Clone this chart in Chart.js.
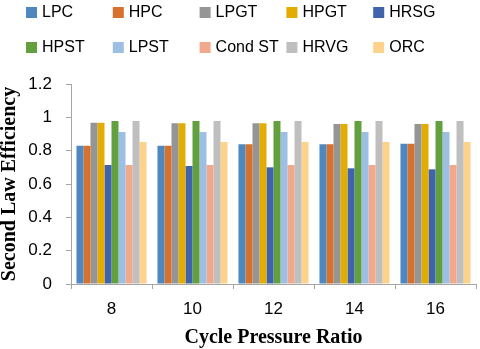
<!DOCTYPE html>
<html>
<head>
<meta charset="utf-8">
<script src="https://cdn.jsdelivr.net/npm/chart.js@4"></script>
<style>
  body { margin: 0; background: #fff; }
  #wrap { width: 480px; height: 349px; }
</style>
</head>
<body>
<div id="wrap"><canvas id="effChart" width="480" height="349"></canvas></div>
<script>
// data
const ratios = ["8", "10", "12", "14", "16"];
const seriesNames = ["LPC", "HPC", "LPGT", "HPGT", "HRSG", "HPST", "LPST", "Cond ST", "HRVG", "ORC"];
const lpc = [0.830, 0.830, 0.838, 0.838, 0.842];
const hpc = [0.830, 0.830, 0.838, 0.838, 0.842];
const lpgt = [0.968, 0.964, 0.964, 0.960, 0.960];
const hpgt = [0.968, 0.964, 0.964, 0.960, 0.960];
const hrsg = [0.714, 0.708, 0.700, 0.694, 0.688];
const hpst = [0.978, 0.978, 0.978, 0.978, 0.978];
const lpst = [0.912, 0.912, 0.912, 0.912, 0.912];
const condSt = [0.714, 0.714, 0.714, 0.714, 0.714];
const hrvg = [0.978, 0.978, 0.978, 0.978, 0.978];
const orc = [0.852, 0.852, 0.852, 0.852, 0.852];
const yTicks = [0, 0.2, 0.4, 0.6, 0.8, 1, 1.2];

const allValues = [lpc, hpc, lpgt, hpgt, hrsg, hpst, lpst, condSt, hrvg, orc];
const colors = ["#4F88BE", "#D6712E", "#959595", "#E3AC00", "#3F64AD",
                "#62A03F", "#9DBFE3", "#F0A98C", "#BFBFBF", "#FDD28B"];

const sansFont = "'Liberation Sans', Arial, sans-serif";
const serifFont = "'Liberation Serif', 'Times New Roman', serif";

// legend drawn as a fixed 5-column grid
const gridLegend = {
    id: "gridLegend",
    afterDraw(chart) {
        const ctx = chart.ctx;
        ctx.save();
        ctx.font = "16px " + sansFont;
        ctx.textBaseline = "middle";
        ctx.textAlign = "left";
        chart.data.datasets.forEach((ds, i) => {
            const col = i % 5;
            const row = Math.floor(i / 5);
            const x = 26 + col * 86.8;
            const y = 12 + row * 35;
            ctx.fillStyle = ds.backgroundColor;
            ctx.fillRect(x, y - 5, 11, 11);
            ctx.fillStyle = "#000";
            ctx.fillText(ds.label, x + 16, y + 1);
        });
        ctx.restore();
    }
};

const datasets = seriesNames.map((name, i) => ({
    label: name,
    data: allValues[i],
    backgroundColor: colors[i],
    borderWidth: 0,
    categoryPercentage: 0.865,
    barPercentage: 1.0
}));

new Chart(document.getElementById("effChart"), {
    type: "bar",
    data: { labels: ratios, datasets: datasets },
    options: {
        responsive: false,
        animation: false,
        layout: { padding: { top: 84, right: 4, left: 0, bottom: 0 } },
        plugins: {
            legend: { display: false },
            tooltip: { enabled: false }
        },
        scales: {
            x: {
                afterFit: (s) => { s.height = 65; },
                grid: {
                    display: true,
                    offset: true,
                    drawOnChartArea: false,
                    tickLength: 5,
                    color: "#A6A6A6"
                },
                border: { color: "#A6A6A6", width: 1 },
                ticks: { color: "#000", font: { size: 17, family: sansFont }, padding: 10 },
                title: {
                    display: true,
                    text: "Cycle Pressure Ratio",
                    color: "#000",
                    font: { size: 20, weight: "bold", family: serifFont, lineHeight: 1 },
                    padding: { top: 0, bottom: 1 }
                }
            },
            y: {
                min: 0,
                max: 1.2,
                afterFit: (s) => { s.width = 71; },
                afterBuildTicks: (s) => { s.ticks = yTicks.map((v) => ({ value: v })); },
                grid: {
                    display: true,
                    drawOnChartArea: false,
                    tickLength: 5,
                    color: "#A6A6A6"
                },
                border: { color: "#A6A6A6", width: 1 },
                ticks: {
                    color: "#000",
                    font: { size: 17, family: sansFont },
                    padding: 14,
                    callback: (v) => String(Math.round(v * 10) / 10)
                },
                title: {
                    display: true,
                    text: "Second Law Efficiency",
                    color: "#000",
                    font: { size: 20, weight: "bold", family: serifFont, lineHeight: 1 },
                    padding: { top: 0, bottom: 0 }
                }
            }
        }
    },
    plugins: [gridLegend]
});
</script>
</body>
</html>
